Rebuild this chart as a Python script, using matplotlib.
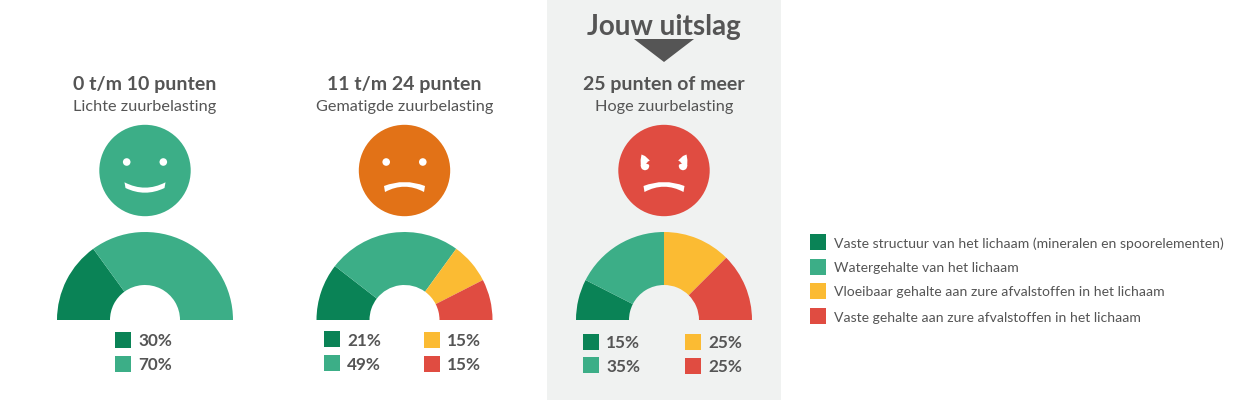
import numpy as np
import matplotlib
matplotlib.use("Agg")
import matplotlib.pyplot as plt
from matplotlib.patches import Wedge, Circle, Rectangle, Polygon, PathPatch
from matplotlib.path import Path

plt.rcParams['font.family'] = ['Lato', 'DejaVu Sans']

DARK_GREEN = "#0a8356"
GREEN = "#3cae87"
YELLOW = "#fbbb33"
RED = "#e04c41"
ORANGE = "#e27217"
TEXT = "#555555"

heads = ["0 t/m 10 punten", "11 t/m 24 punten", "25 punten of meer"]
subs = ["Lichte zuurbelasting", "Gematigde zuurbelasting", "Hoge zuurbelasting"]
low = [30, 70]
mid = [21, 49, 15, 15]
high = [15, 35, 25, 25]
legend_labels = [
    "Vaste structuur van het lichaam (mineralen en spoorelementen)",
    "Watergehalte van het lichaam",
    "Vloeibaar gehalte aan zure afvalstoffen in het lichaam",
    "Vaste gehalte aan zure afvalstoffen in het lichaam",
]

W, H = 1260, 400
fig = plt.figure(figsize=(W / 100, H / 100), dpi=100)
ax = fig.add_axes([0, 0, 1, 1])
ax.set_xlim(0, W)
ax.set_ylim(0, H)
ax.axis("off")


def Y(y):
    # the layout was measured from the top of the picture
    return H - y


def gauge(cx, values, colors):
    start = 180
    for v, c in zip(values, colors):
        end = start - v * 1.8
        ax.add_patch(Wedge((cx, Y(320)), 88, end, start, width=53, fc=c, ec="none"))
        start = end


def mouth(cx, y_end_top, y_end_bot, y_ctrl_top, y_ctrl_bot):
    # filled crescent, thicker at the ends like the original
    x0, x1 = cx - 20.5, cx + 20.5
    verts = [(x0, Y(y_end_top)), (cx, Y(y_ctrl_top)), (x1, Y(y_end_top)),
             (x1 - 1, Y(y_end_bot)), (cx, Y(y_ctrl_bot)), (x0 + 1, Y(y_end_bot)),
             (x0, Y(y_end_top))]
    codes = [Path.MOVETO, Path.CURVE3, Path.CURVE3, Path.LINETO, Path.CURVE3, Path.CURVE3, Path.CLOSEPOLY]
    ax.add_patch(PathPatch(Path(verts, codes), fc="white", ec="none"))


def face(cx, color, mood):
    ax.add_patch(Circle((cx, Y(170.5)), 45.7, fc=color, ec="none"))
    if mood == "angry":
        for side in (-1, 1):
            ex = cx + side * 19
            # comma shaped eye: blob, tail up and outwards, notch on the inner side
            ax.add_patch(Circle((ex, Y(166)), 4.2, fc="white", ec="none"))
            tail = [(-3.5, 154.5), (0, 156), (4.8, 160.5), (1.5, 162.5), (0.5, 166), (-4.2, 166), (-4.4, 160)]
            ax.add_patch(Polygon([(ex - side * x, Y(y)) for x, y in tail], fc="white", ec="none"))
            notch = [(0.8, 163.5), (5.5, 161.5), (5.5, 165)]
            ax.add_patch(Polygon([(ex - side * x, Y(y)) for x, y in notch], fc=color, ec="none"))
    else:
        for side in (-1, 1):
            ax.add_patch(Circle((cx + side * 18.3, Y(162)), 3.8, fc="white", ec="none"))
    if mood == "happy":
        mouth(cx, 182.3, 188, 193, 197.4)
    else:
        mouth(cx, 186, 192, 178, 181.4)


def swatch(x, y, color):
    ax.add_patch(Rectangle((x, Y(y + 16)), 16, 16, fc=color, ec="none"))


def pct_rows(x, ys, values, colors):
    for y, v, c in zip(ys, values, colors):
        swatch(x, y, c)
        ax.text(x + 23, Y(y + 8), f"{v}%", fontsize=12.3, fontweight="bold",
                color=TEXT, va="center_baseline", ha="left")


# grey panel behind the result
ax.add_patch(Rectangle((547, 0), 234, H, fc="#f0f2f1", ec="none"))
ax.text(664, Y(24), "Jouw uitslag", fontsize=20.1, fontweight="bold", color=TEXT,
        ha="center", va="center_baseline")
ax.add_patch(Polygon([(634, Y(39)), (694, Y(39)), (664, Y(62))], fc=TEXT, ec="none"))

centers = [145, 404.5, 664]
moods = ["happy", "sad", "angry"]
face_colors = [GREEN, ORANGE, RED]
for cx, head, sub, mood, fc in zip(centers, heads, subs, moods, face_colors):
    ax.text(cx, Y(83), head, fontsize=14, fontweight="bold", color=TEXT,
            ha="center", va="center_baseline")
    ax.text(cx, Y(106), sub, fontsize=11.7, color=TEXT, ha="center", va="center_baseline")
    face(cx, fc, mood)

gauge(centers[0], low, [DARK_GREEN, GREEN])
gauge(centers[1], mid, [DARK_GREEN, GREEN, YELLOW, RED])
gauge(centers[2], high, [DARK_GREEN, GREEN, YELLOW, RED])

pct_rows(115, [332, 356], low, [DARK_GREEN, GREEN])
pct_rows(324, [331, 355], mid[:2], [DARK_GREEN, GREEN])
pct_rows(424, [332, 356], mid[2:], [YELLOW, RED])
pct_rows(583, [334, 357], high[:2], [DARK_GREEN, GREEN])
pct_rows(685, [334, 358], high[2:], [YELLOW, RED])

# legend on the right
for y, label, c in zip([234, 258.5, 283, 308], legend_labels, [DARK_GREEN, GREEN, YELLOW, RED]):
    swatch(810, y, c)
    ax.text(834, Y(y + 8.5), label, fontsize=10.05, color=TEXT, va="center_baseline", ha="left")

fig.savefig("out.png", dpi=100)
